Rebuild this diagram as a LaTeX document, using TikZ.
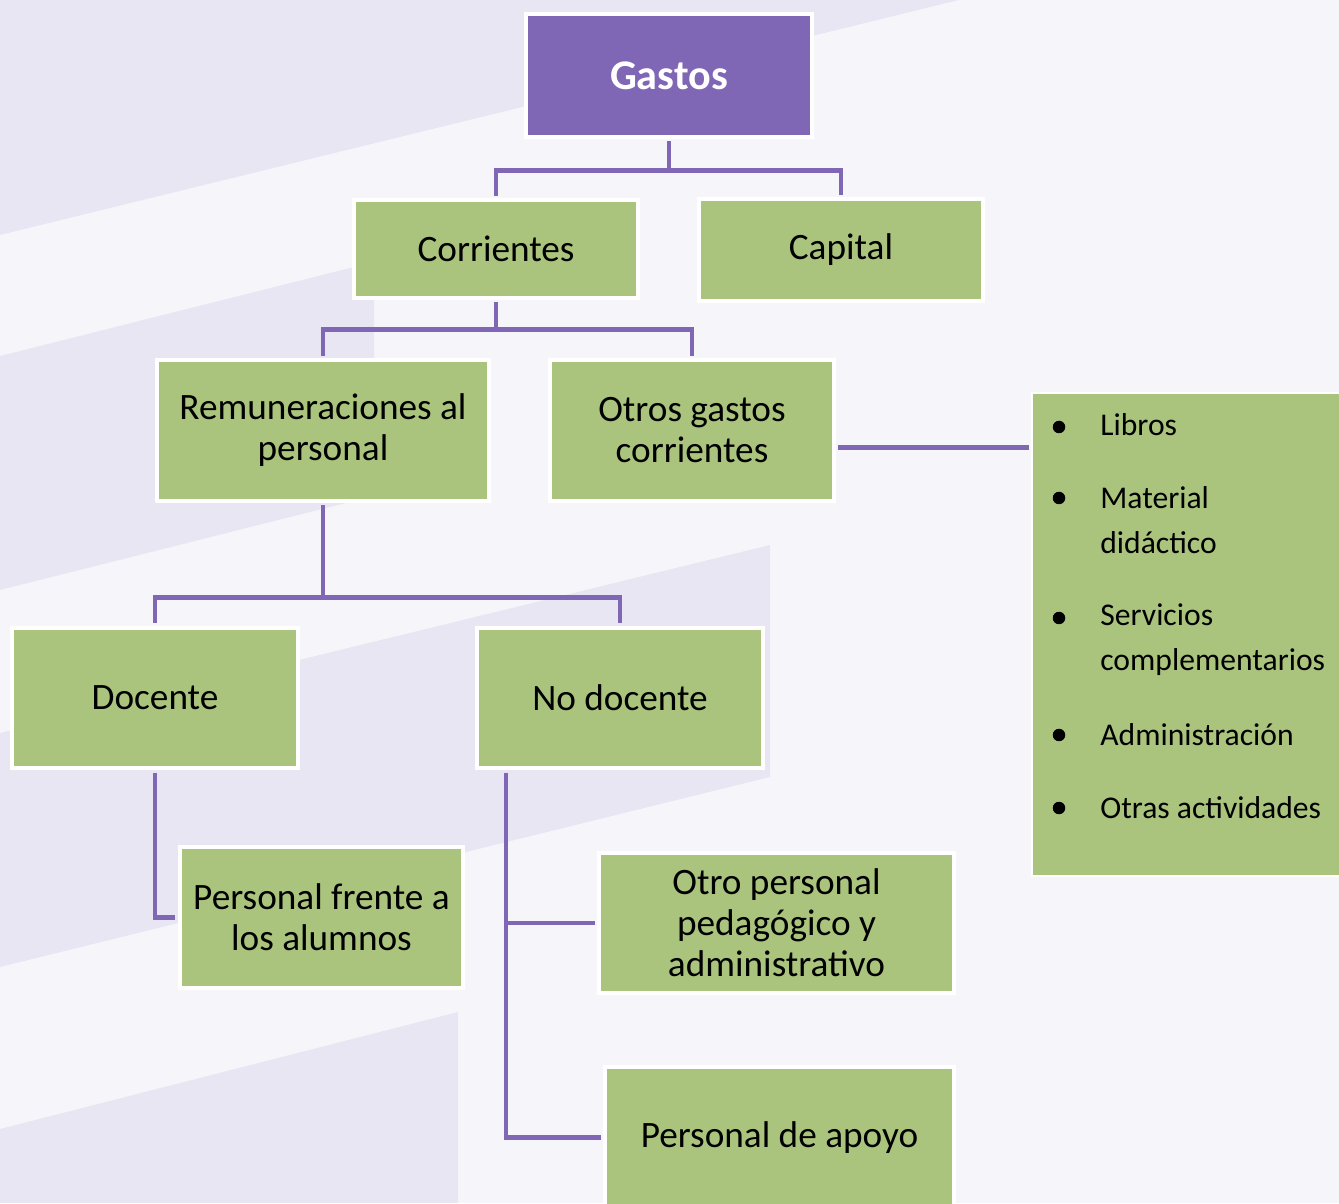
\documentclass[tikz,border=0pt]{standalone}
\usepackage{fontspec}
\setmainfont{Carlito}
\usepackage{tikz}

\begin{document}
\begin{tikzpicture}[
  box/.style={draw=white, line width=2.5pt, fill={rgb,255:red,170;green,196;blue,125}, minimum width=5.67cm, minimum height=2.81cm, align=center, inner sep=2pt, font=\fontsize{21.2}{23.3}\selectfont},
  topbox/.style={box, fill={rgb,255:red,127;green,103;blue,181}, text=white, font=\bfseries\fontsize{24}{28}\selectfont},
  band/.style={fill={rgb,255:red,232;green,230;blue,243}},
  conn/.style={draw={rgb,255:red,127;green,103;blue,181}, line width=2.8pt, shorten <=1.25pt, shorten >=1.25pt},
  item/.style={anchor=west, align=left, inner sep=0pt, font=\fontsize{18}{25.5}\selectfont},
  dot/.style={circle, fill=black, inner sep=0pt, minimum size=0.25cm}
]
\useasboundingbox (0,0) rectangle (26.78,24.06);
\fill[fill={rgb,255:red,246;green,246;blue,250}] (0,0) rectangle (26.78,24.06);

% background bands
\fill[band] (0,24.06) -- (19.18,24.06) -- (0,19.36) -- cycle;
\fill[band] (0,16.94) -- (7.48,18.82) -- (7.48,14.14) -- (0,12.26) -- cycle;
\fill[band] (0,9.40) -- (15.4,13.16) -- (15.4,8.52) -- (0,4.72) -- cycle;
\fill[band] (0,1.48) -- (9.16,3.82) -- (9.16,0) -- (0,0) -- cycle;

\node[topbox, minimum width=5.71cm, minimum height=2.45cm] (gastos) at (13.38,22.55) {Gastos};
\node[box, minimum height=1.95cm] (corr) at (9.92,19.08) {Corrientes};
\node[box, minimum height=2.03cm] (cap) at (16.82,19.06) {Capital};
\node[box, minimum width=6.63cm] (remun) at (6.46,15.45) {Remuneraciones al\\personal};
\node[box] (otros) at (13.84,15.45) {Otros gastos\\corrientes};
\node[box, minimum width=5.71cm] (doc) at (3.10,10.10) {Docente};
\node[box, minimum width=5.71cm] (nodoc) at (12.40,10.10) {No docente};
\node[box] (frente) at (6.43,5.71) {Personal frente a\\los alumnos};
\node[box, minimum width=7.09cm] (otro) at (15.53,5.60) {Otro personal\\pedagógico y\\administrativo};
\node[box, minimum width=6.97cm] (apoyo) at (15.59,1.31) {Personal de apoyo};

% list of other current expenses
\node[box, line width=1pt, minimum width=6.6cm, minimum height=9.66cm] (lista) at (23.94,11.37) {};
\node[dot] (b1) at (21.18,15.52) {}; \node[item] (libros) at (22.0,15.56) {Libros};
\node[dot] (b2) at (21.18,14.10) {}; \node[item] (material) at (22.0,13.65) {Material\\didáctico};
\node[dot] (b3) at (21.18,11.70) {}; \node[item] (servicios) at (22.0,11.27) {Servicios\\complementarios};
\node[dot] (b4) at (21.18,9.36) {}; \node[item] (admin) at (22.0,9.36) {Administración};
\node[dot] (b5) at (21.18,7.90) {}; \node[item] (otras) at (22.0,7.90) {Otras actividades};

\draw[conn] (gastos.south) -- ++(0,-0.625) -| (corr.north);
\draw[conn] (gastos.south) -- ++(0,-0.625) -| (cap.north);
\draw[conn] (corr.south) -- ++(0,-0.6) -| (remun.north);
\draw[conn] (corr.south) -- ++(0,-0.6) -| (otros.north);
\draw[conn] (remun.south) -- ++(0,-1.9) -| (doc.north);
\draw[conn] (remun.south) -- ++(0,-1.9) -| (nodoc.north);
\draw[conn] (doc.south) |- (frente.west);
\coordinate (nd) at ([xshift=-2.28cm]nodoc.south);
\draw[conn] (nd) |- (otro.west);
\draw[conn] (nd) |- (apoyo.west);
\draw[conn] ([yshift=-0.34cm]otros.east) -- ([yshift=-0.34cm]otros.east -| lista.west);

\end{tikzpicture}
\end{document}
